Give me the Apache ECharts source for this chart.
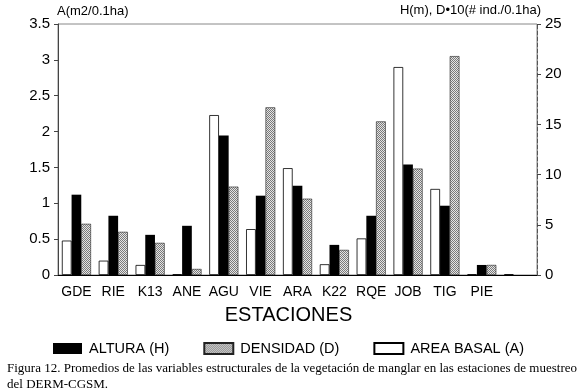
<!DOCTYPE html>
<html>
<head>
<meta charset="utf-8">
<script src="https://cdn.jsdelivr.net/npm/echarts@6/dist/echarts.min.js"></script>
<style>
  html, body { margin: 0; padding: 0; background: #fff; }
  #chart { width: 577px; height: 392px; }
</style>
</head>
<body>
<div id="chart"></div>
<script>
var estaciones = ['GDE', 'RIE', 'K13', 'ANE', 'AGU', 'VIE', 'ARA', 'K22', 'RQE', 'JOB', 'TIG', 'PIE', ''];
// area basal (m2/0.1ha), left axis
var areaBasal = [0.48, 0.2, 0.14, 0.01, 2.23, 0.64, 1.49, 0.15, 0.51, 2.9, 1.2, 0.01, 0.01];
// altura (m), right axis
var altura = [8.0, 5.9, 4.0, 4.9, 13.9, 7.9, 8.9, 3.0, 5.9, 11.0, 6.9, 1.0, null];
// densidad*10, right axis
var densidad = [5.1, 4.3, 3.2, 0.6, 8.8, 16.7, 7.6, 2.5, 15.3, 10.6, 21.8, 1.0, null];

var leftTicks = { min: 0, max: 3.5, interval: 0.5 };
var rightTicks = { min: 0, max: 25, interval: 5 };

// textura punteada para densidad
var cv = document.createElement('canvas');
cv.width = 2; cv.height = 2;
var cx = cv.getContext('2d');
cx.fillStyle = '#e4e4e4'; cx.fillRect(0, 0, 2, 2);
cx.fillStyle = '#7a7a7a'; cx.fillRect(0, 0, 1, 1); cx.fillRect(1, 1, 1, 1);

var chart = echarts.init(document.getElementById('chart'));
var sans = 'Liberation Sans';
var option = {
  backgroundColor: '#fff',
  animation: false,
  title: [
    {
      text: 'ESTACIONES', left: 'center', top: 300,
      textStyle: { fontFamily: sans, fontSize: 20, fontWeight: 'normal', color: '#000' }
    },
    {
      text: 'Figura 12. Promedios de las variables estructurales de la vegetación de manglar en las estaciones de muestreo\ndel DERM-CGSM.',
      left: 2, top: 356,
      textStyle: { fontFamily: 'Liberation Serif', fontSize: 13, fontWeight: 'normal', color: '#000', lineHeight: 16 }
    }
  ],
  legend: {
    data: ['ALTURA (H)', 'DENSIDAD (D)', 'AREA BASAL (A)'],
    left: 'center', top: 336,
    itemWidth: 29, itemHeight: 11, itemGap: 34,
    icon: 'rect',
    textStyle: { fontFamily: sans, fontSize: 14.5, color: '#000', padding: [0, 0, 0, 2] }
  },
  grid: {
    left: 58, right: 40, top: 24, bottom: 117,
    show: true, borderColor: '#888', borderWidth: 1
  },
  xAxis: {
    type: 'category',
    data: estaciones,
    axisLine: { lineStyle: { color: '#000', width: 1 } },
    axisTick: { show: false },
    axisLabel: { fontFamily: sans, fontSize: 14, color: '#000', margin: 10, interval: 0 }
  },
  yAxis: [
    {
      type: 'value', min: leftTicks.min, max: leftTicks.max, interval: leftTicks.interval,
      name: 'A(m2/0.1ha)', nameLocation: 'end', nameGap: 6,
      nameTextStyle: { fontFamily: sans, fontSize: 13, color: '#000', align: 'left', padding: [0, 0, 0, -1] },
      axisLine: { show: true, lineStyle: { color: '#444' } },
      axisTick: { show: true, length: 4, lineStyle: { color: '#444' } },
      axisLabel: { fontFamily: sans, fontSize: 15, color: '#000', margin: 8 },
      splitLine: { show: false }
    },
    {
      type: 'value', min: rightTicks.min, max: rightTicks.max, interval: rightTicks.interval,
      position: 'right',
      name: 'H(m), D\u202210(# ind./0.1ha)', nameLocation: 'end', nameGap: 3,
      nameTextStyle: { fontFamily: sans, fontSize: 13, color: '#000', align: 'right', padding: [0, -4, 0, 0] },
      axisLine: { show: true, lineStyle: { color: '#555', type: 'dashed' } },
      axisTick: { show: true, length: 4, lineStyle: { color: '#444' } },
      axisLabel: { fontFamily: sans, fontSize: 15, color: '#000', margin: 8 },
      splitLine: { show: false }
    }
  ],
  series: [
    {
      name: 'AREA BASAL (A)', type: 'bar', yAxisIndex: 0, data: areaBasal,
      barGap: '0%', barCategoryGap: '21%',
      itemStyle: { color: '#fff', borderColor: '#000', borderWidth: 0.8 }
    },
    {
      name: 'ALTURA (H)', type: 'bar', yAxisIndex: 1, data: altura,
      itemStyle: { color: '#000' }
    },
    {
      name: 'DENSIDAD (D)', type: 'bar', yAxisIndex: 1, data: densidad,
      itemStyle: { color: { image: cv, repeat: 'repeat' }, borderColor: '#222', borderWidth: 0.6 }
    }
  ]
};
chart.setOption(option);
</script>
</body>
</html>
